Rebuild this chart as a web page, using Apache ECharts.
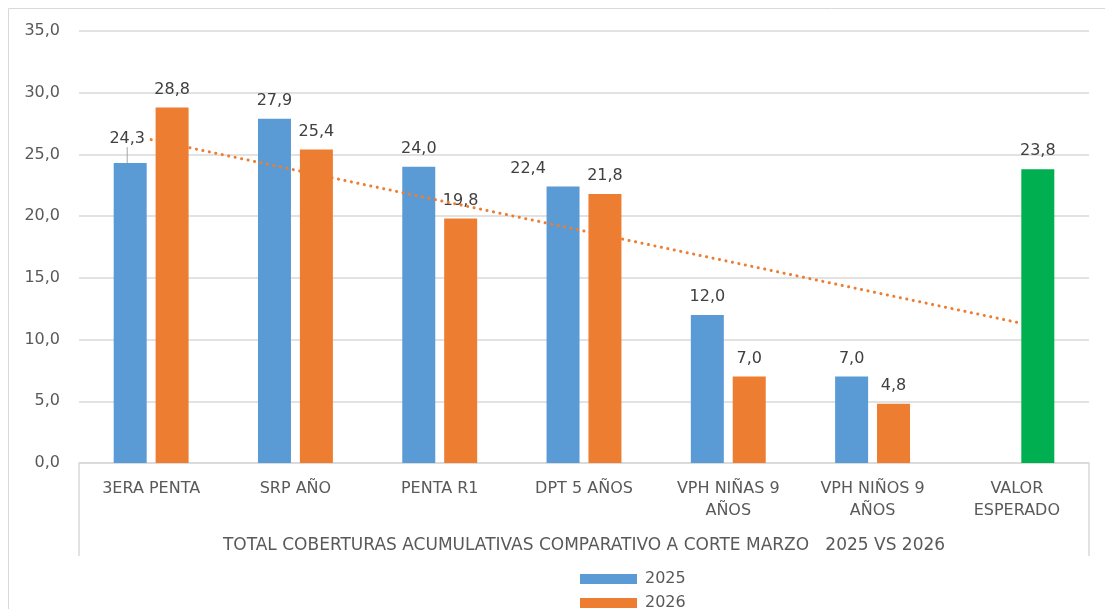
<!DOCTYPE html>
<html>
<head>
<meta charset="utf-8">
<script src="https://cdn.jsdelivr.net/npm/echarts@6/dist/echarts.min.js"></script>
<style>
  html, body { margin: 0; padding: 0; background: #fff; }
  #chart { width: 1105px; height: 609px; }
</style>
</head>
<body>
<div id="chart"></div>
<script>
var categories = ['3ERA PENTA', 'SRP AÑO', 'PENTA R1', 'DPT 5 AÑOS', 'VPH NIÑAS 9\nAÑOS', 'VPH NIÑOS 9\nAÑOS', 'VALOR\nESPERADO'];
var groupLabel = ['TOTAL COBERTURAS ACUMULATIVAS COMPARATIVO A CORTE MARZO   2025 VS 2026'];
var values2025 = [24.3, 27.9, 24.0, 22.4, 12.0, 7.0, null];
var values2026 = [28.8, 25.4, 19.8, 21.8, 7.0, 4.8, 23.8];
// dotted trend line, read at first and last category
var trendValues = [26.2, null, null, null, null, null, 11.4];
var seriesNames = ['2025', '2026'];

var font = 'DejaVu Sans';
function fmt(v) {
    return Number(v).toFixed(1).replace('.', ',');
}

var data2025 = values2025.map(function(v, i) {
    if (i === 0) return { value: v, labelLine: { show: true } };
    return v;
});
var data2026 = values2026.map(function(v, i) {
    if (i === values2026.length - 1) return { value: v, itemStyle: { color: '#00B050' } };
    return v;
});

var chart = echarts.init(document.getElementById('chart'));
var option = {
    animation: false,
    backgroundColor: '#fff',
    textStyle: { fontFamily: font },
    graphic: [{
        type: 'rect',
        shape: { x: 8.5, y: 8.5, width: 1200, height: 700 },
        style: { fill: 'none', stroke: '#d9d9d9', lineWidth: 1 },
        silent: true
    }],
    grid: { left: 79, right: 16, top: 31, bottom: 146 },
    legend: {
        data: seriesNames,
        orient: 'vertical',
        left: 580,
        top: 571,
        height: 60,
        padding: 0,
        icon: 'rect',
        itemWidth: 57,
        itemHeight: 10,
        itemGap: 8,
        textStyle: { color: '#595959', fontSize: 16, fontFamily: font, lineHeight: 15, padding: [0, 0, 0, 3] }
    },
    xAxis: [{
        type: 'category',
        data: categories,
        axisLine: { show: true, lineStyle: { color: '#d9d9d9', width: 1.5 } },
        axisTick: { show: false },
        axisLabel: { color: '#595959', fontSize: 16, fontFamily: font, margin: 15, lineHeight: 22, interval: 0 }
    }, {
        type: 'category',
        data: groupLabel,
        position: 'bottom',
        axisLine: { show: false },
        axisTick: { show: true, length: 93, lineStyle: { color: '#d9d9d9', width: 1.5 } },
        axisLabel: { color: '#595959', fontSize: 17, fontFamily: font, margin: 74 }
    }],
    yAxis: {
        type: 'value',
        min: 0,
        max: 35,
        interval: 5,
        axisLine: { show: false },
        axisTick: { show: false },
        axisLabel: { color: '#595959', fontSize: 16, fontFamily: font, margin: 19, formatter: fmt },
        splitLine: { lineStyle: { color: '#d9d9d9', width: 1.5 } }
    },
    series: [{
        name: '2025',
        type: 'bar',
        data: data2025,
        barWidth: 33,
        barGap: '27%',
        itemStyle: { color: '#5B9BD5' },
        label: { show: true, position: 'top', distance: 10, color: '#404040', fontSize: 16, fontFamily: font, formatter: function(p) { return fmt(p.value); } },
        labelLine: { show: false, lineStyle: { color: '#a6a6a6', width: 1 } },
        labelLayout: function(p) {
            if (p.dataIndex === 0) return { dx: -3, dy: -6 };
            if (p.dataIndex === 3) return { dx: -35 };
            return {};
        }
    }, {
        name: '2026',
        type: 'bar',
        data: data2026,
        barWidth: 33,
        itemStyle: { color: '#ED7D31' },
        label: { show: true, position: 'top', distance: 10, color: '#404040', fontSize: 16, fontFamily: font, formatter: function(p) { return fmt(p.value); } }
    }, {
        name: 'trend',
        type: 'line',
        data: trendValues,
        connectNulls: true,
        symbol: 'none',
        z: 5,
        lineStyle: { color: '#ED7D31', width: 3, type: [0.1, 6.5], cap: 'round' }
    }]
};
chart.setOption(option);
</script>
</body>
</html>
